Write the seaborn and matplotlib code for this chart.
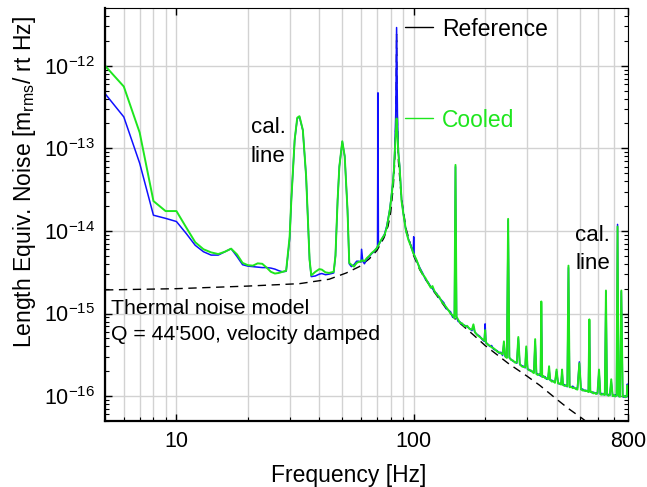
import matplotlib
matplotlib.use("Agg")
import matplotlib.pyplot as plt
import pandas as pd
import seaborn as sns
from matplotlib.ticker import NullFormatter

# Spectra (length equivalent noise, m_rms / rt Hz)
# 5 - 29 Hz
FREQ_LOW = [5, 6, 7, 8, 9, 10, 11, 12, 13, 14, 15, 16, 17, 18, 19, 20, 21, 22, 23, 24,
            25, 26, 27, 28, 29]
REF_LOW = [4.6e-13, 2.4e-13, 6.6e-14, 1.55e-14, 1.42e-14, 1.3e-14, 9.3e-15, 6.7e-15, 5.6e-15, 5.1e-15,
           5.1e-15, 5.6e-15, 6.1e-15, 4.9e-15, 3.9e-15, 3.75e-15, 3.7e-15, 3.65e-15, 3.6e-15, 3.6e-15,
           3.55e-15, 3.45e-15, 3.3e-15, 3.2e-15, 3.25e-15]
COOL_LOW = [1.0e-12, 5.6e-13, 1.55e-13, 2.3e-14, 1.74e-14, 1.74e-14, 1.1e-14, 7.3e-15, 6.0e-15, 5.5e-15,
            5.25e-15, 5.6e-15, 6.1e-15, 5.2e-15, 4.1e-15, 3.85e-15, 3.8e-15, 4.05e-15, 4.0e-15, 3.6e-15,
            3.2e-15, 3.05e-15, 3.1e-15, 3.2e-15, 3.3e-15]

# 30 - 58 Hz, the two calibration lines
FREQ_CAL = [30, 30.5, 31.5, 32.3, 33, 34.1, 35.2, 36.4, 37, 38.5,
            40, 41, 42.5, 44, 46, 46.8, 47.8, 48.6, 50, 51.2,
            52.6, 53.5, 54.6, 56, 57.5]
REF_CAL = [8e-15, 2.4e-14, 1.25e-13, 2.3e-13, 2.4e-13, 1.65e-13, 4.6e-14, 4.5e-15, 2.8e-15, 2.85e-15,
           3.0e-15, 3.05e-15, 2.95e-15, 3.0e-15, 3.1e-15, 5e-15, 2.4e-14, 6e-14, 1.2e-13, 8e-14,
           1.8e-14, 4.0e-15, 3.7e-15, 3.9e-15, 4.3e-15]
COOL_CAL = [8.5e-15, 2.4e-14, 1.27e-13, 2.35e-13, 2.45e-13, 1.67e-13, 4.6e-14, 4.5e-15, 2.9e-15, 3.2e-15,
            3.45e-15, 3.4e-15, 3.15e-15, 3.1e-15, 3.2e-15, 5e-15, 2.4e-14, 6e-14, 1.22e-13, 8e-14,
            1.8e-14, 4.1e-15, 3.9e-15, 3.7e-15, 4.1e-15]

# 58 - 100 Hz, mechanical resonance
FREQ_PEAK = [58.5, 60, 60.3, 61, 62, 63.5, 65, 66.5, 68, 69.6,
             70.4, 70.7, 71.0, 72, 73.5, 75.4, 77, 78, 79.2, 80.2,
             81.5, 82.5, 83.1, 84.0, 84.7, 85.4, 86.2, 87.2, 88.9, 90.5,
             92.8, 95, 97.8, 99.5, 100, 100.5]
REF_PEAK = [4.3e-15, 4.2e-15, 6e-15, 4.3e-15, 4.0e-15, 4.6e-15, 4.9e-15, 5.3e-15, 5.6e-15, 6.1e-15,
            6.5e-15, 4.7e-13, 6.7e-15, 7.2e-15, 8.0e-15, 9.2e-15, 1.15e-14, 1.4e-14, 1.8e-14, 2.4e-14,
            3.6e-14, 5.5e-14, 8.5e-14, 2.6e-13, 2.9e-12, 2.6e-13, 9e-14, 6.2e-14, 2.4e-14, 1.6e-14,
            1.0e-14, 8.0e-15, 6.4e-15, 5.4e-15, 8.5e-15, 5.1e-15]
COOL_PEAK = [4.2e-15, 4.3e-15, 4.4e-15, 4.4e-15, 4.3e-15, 4.7e-15, 5.0e-15, 5.4e-15, 5.7e-15, 6.1e-15,
             6.4e-15, 6.6e-15, 6.7e-15, 7.3e-15, 8.1e-15, 9.0e-15, 1.1e-14, 1.35e-14, 1.75e-14, 2.3e-14,
             3.5e-14, 5.3e-14, 8.3e-14, 1.5e-13, 2.3e-13, 1.5e-13, 8.5e-14, 6.0e-14, 2.3e-14, 1.6e-14,
             1.0e-14, 7.8e-15, 6.3e-15, 5.4e-15, 5.3e-15, 5.1e-15]

# 103 - 800 Hz
FREQ_HIGH = [103, 106, 109, 112, 115, 118, 120, 122, 125, 128,
             131, 134, 137, 140, 143, 146, 148.5, 150, 151.5, 154,
             157, 160, 164, 168, 172, 176, 178.5, 181, 185, 190,
             195, 198.5, 200, 201.5, 205, 209, 213, 217, 221, 225,
             229, 233, 237, 240, 243, 247, 250, 253, 257, 262,
             267, 272, 276, 280, 285, 290, 295, 298, 302, 307,
             312, 317, 321, 325, 329, 334, 339, 342.5, 345, 348,
             353, 358, 363, 368, 372, 376, 382, 388, 394, 400,
             406, 412, 418, 422, 426, 432, 438, 444, 449, 454,
             461, 468, 475, 482, 490, 499, 507, 515, 523, 531,
             539, 545, 550, 555, 563, 571, 579, 587, 595, 604,
             612, 621, 630, 639, 646, 653, 662, 671, 680, 689,
             698, 707, 716, 723, 730, 740, 750, 760, 770, 780,
             790, 795, 800]
REF_HIGH = [4.3e-15, 3.6e-15, 3.1e-15, 2.6e-15, 2.4e-15, 2.1e-15, 2.0e-15, 1.85e-15, 1.75e-15, 1.55e-15,
            1.45e-15, 1.35e-15, 1.15e-15, 1.1e-15, 1.05e-15, 9.0e-16, 9.0e-16, 6.0e-14, 9.0e-16, 8.0e-16,
            7.9e-16, 7.4e-16, 7.2e-16, 6.9e-16, 6.6e-16, 6.2e-16, 7.0e-16, 5.9e-16, 5.6e-16, 5.3e-16,
            4.8e-16, 4.6e-16, 7.5e-16, 4.4e-16, 4.3e-16, 4.0e-16, 4.1e-16, 3.7e-16, 3.6e-16, 3.55e-16,
            3.3e-16, 3.4e-16, 3.1e-16, 4.4e-16, 3.0e-16, 3.0e-16, 1.35e-14, 2.9e-16, 2.8e-16, 2.65e-16,
            2.6e-16, 2.5e-16, 5.0e-16, 2.4e-16, 2.35e-16, 2.3e-16, 2.2e-16, 3.8e-16, 2.1e-16, 2.1e-16,
            2.0e-16, 2.0e-16, 1.95e-16, 4.6e-16, 1.9e-16, 1.85e-16, 1.8e-16, 1.75e-16, 1.35e-15, 1.75e-16,
            1.7e-16, 1.72e-16, 1.6e-16, 1.62e-16, 2.1e-16, 1.55e-16, 1.56e-16, 1.5e-16, 1.47e-16, 2.0e-16,
            1.44e-16, 1.4e-16, 1.42e-16, 2.0e-16, 1.36e-16, 1.38e-16, 1.33e-16, 1.3e-16, 3.6e-15, 1.3e-16,
            1.28e-16, 1.32e-16, 1.25e-16, 1.24e-16, 1.26e-16, 2.6e-16, 1.2e-16, 1.22e-16, 1.16e-16, 1.18e-16,
            1.15e-16, 1.13e-16, 8.2e-16, 1.14e-16, 1.1e-16, 1.12e-16, 1.08e-16, 1.1e-16, 1.07e-16, 2.0e-16,
            1.06e-16, 1.08e-16, 1.04e-16, 1.06e-16, 1.85e-15, 1.03e-16, 1.05e-16, 1.02e-16, 1.5e-16, 1.03e-16,
            1.0e-16, 1.04e-16, 1.01e-16, 1.2e-14, 9.9e-17, 1.02e-16, 1.85e-15, 1.0e-16, 9.7e-17, 1.01e-16,
            9.8e-17, 1.4e-16, 1.05e-16]
COOL_HIGH = [4.4e-15, 3.5e-15, 3.0e-15, 2.7e-15, 2.35e-15, 2.05e-15, 2.15e-15, 1.9e-15, 1.7e-15, 1.6e-15,
             1.4e-15, 1.3e-15, 1.2e-15, 1.1e-15, 1.0e-15, 9.5e-16, 8.8e-16, 6.3e-14, 9.2e-16, 8.4e-16,
             7.7e-16, 7.6e-16, 7.0e-16, 7.1e-16, 6.5e-16, 6.4e-16, 7.4e-16, 6.0e-16, 5.5e-16, 5.2e-16,
             4.9e-16, 4.7e-16, 6.3e-16, 4.5e-16, 4.2e-16, 4.1e-16, 3.9e-16, 3.8e-16, 3.65e-16, 3.45e-16,
             3.4e-16, 3.3e-16, 3.2e-16, 4.6e-16, 3.05e-16, 2.9e-16, 1.4e-14, 2.95e-16, 2.75e-16, 2.7e-16,
             2.55e-16, 2.55e-16, 5.2e-16, 2.45e-16, 2.3e-16, 2.25e-16, 2.25e-16, 4.0e-16, 2.15e-16, 2.05e-16,
             2.05e-16, 1.95e-16, 1.9e-16, 4.9e-16, 1.85e-16, 1.8e-16, 1.85e-16, 1.8e-16, 1.4e-15, 1.7e-16,
             1.75e-16, 1.65e-16, 1.65e-16, 1.6e-16, 2.3e-16, 1.58e-16, 1.5e-16, 1.52e-16, 1.45e-16, 2.1e-16,
             1.42e-16, 1.43e-16, 1.38e-16, 2.1e-16, 1.37e-16, 1.33e-16, 1.35e-16, 1.32e-16, 3.8e-15, 1.28e-16,
             1.3e-16, 1.25e-16, 1.27e-16, 1.22e-16, 1.2e-16, 2.5e-16, 1.22e-16, 1.17e-16, 1.18e-16, 1.15e-16,
             1.16e-16, 1.12e-16, 8.5e-16, 1.12e-16, 1.13e-16, 1.08e-16, 1.1e-16, 1.06e-16, 1.09e-16, 2.1e-16,
             1.05e-16, 1.04e-16, 1.07e-16, 1.03e-16, 1.9e-15, 1.05e-16, 1.01e-16, 1.04e-16, 1.6e-16, 1.0e-16,
             1.03e-16, 9.9e-17, 1.02e-16, 1.13e-14, 1.01e-16, 9.8e-17, 1.9e-15, 9.9e-17, 1.01e-16, 9.7e-17,
             1.0e-16, 1.35e-16, 1.02e-16]

# Thermal noise model (Q = 44'500, velocity damped)
MODEL_FREQ = [5, 10, 20, 33, 44, 52, 59, 65, 70, 75, 78, 80, 82, 83.1, 84, 84.4, 84.7, 85.0,
              85.4, 86.2, 88, 90, 93, 97, 100, 106, 113, 120, 137, 150, 180, 200, 250, 300,
              340, 400, 448, 512, 530]
MODEL_NOISE = [1.93e-15, 2.0e-15, 2.15e-15, 2.3e-15, 2.6e-15, 3.1e-15, 3.7e-15, 4.6e-15, 5.8e-15,
               8.3e-15, 1.15e-14, 1.7e-14, 3.4e-14, 6.5e-14, 1.9e-13, 6e-13, 2.4e-12, 6e-13,
               1.9e-13, 7e-14, 3.3e-14, 1.9e-14, 1.05e-14, 6.8e-15, 5.0e-15, 3.4e-15, 2.5e-15,
               1.95e-15, 1.15e-15, 8.5e-16, 5.4e-16, 4.1e-16, 2.5e-16, 1.75e-16, 1.35e-16,
               9.2e-17, 7.1e-17, 5.4e-17, 5.0e-17]

Y_TICKS = [1e-16, 1e-15, 1e-14, 1e-13, 1e-12]
Y_TICK_LABELS = [r"$\mathregular{10^{-16}}$", r"$\mathregular{10^{-15}}$", r"$\mathregular{10^{-14}}$",
                 r"$\mathregular{10^{-13}}$", r"$\mathregular{10^{-12}}$"]
X_TICKS = [10, 100, 800]
X_TICK_LABELS = ["10", "100", "800"]

BLUE = "#1010ff"
GREEN = "#1ee61e"

freq = FREQ_LOW + FREQ_CAL + FREQ_PEAK + FREQ_HIGH
ref = REF_LOW + REF_CAL + REF_PEAK + REF_HIGH
cool = COOL_LOW + COOL_CAL + COOL_PEAK + COOL_HIGH
assert len(freq) == len(ref) == len(cool)

df_ref = pd.DataFrame({"freq": freq, "noise": ref})
df_cool = pd.DataFrame({"freq": freq, "noise": cool})

sns.set_style("ticks")
plt.rcParams["font.family"] = ["Liberation Sans", "DejaVu Sans"]
plt.rcParams["mathtext.fontset"] = "custom"
plt.rcParams["mathtext.rm"] = "Liberation Sans"
for key in ["text.color", "axes.labelcolor", "xtick.color", "ytick.color", "axes.edgecolor"]:
    plt.rcParams[key] = "black"

fig = plt.figure(figsize=(6.47, 4.87), dpi=100)
ax = fig.add_axes([0.1623, 0.1355, 0.8083, 0.8481])
ax.set_xscale("log")
ax.set_yscale("log")

# model first so the measured traces sit on top of it
sns.lineplot(x=MODEL_FREQ, y=MODEL_NOISE, color="black", lw=1.0, estimator=None, sort=False, ax=ax)
ax.lines[-1].set_dashes([6, 4])
sns.lineplot(data=df_ref, x="freq", y="noise", color=BLUE, lw=1.1, estimator=None, sort=False, ax=ax)
sns.lineplot(data=df_cool, x="freq", y="noise", color=GREEN, lw=1.4, estimator=None, sort=False, ax=ax)

ax.set_xlim(5, 800)
ax.set_ylim(5e-17, 5e-12)
ax.set_xticks(X_TICKS, labels=X_TICK_LABELS)
ax.set_yticks(Y_TICKS, labels=Y_TICK_LABELS)
ax.xaxis.set_minor_formatter(NullFormatter())
ax.yaxis.set_minor_formatter(NullFormatter())

ax.grid(True, which="major", color="#d2d2d2", lw=1.0)
ax.grid(True, which="minor", axis="x", color="#d2d2d2", lw=1.0)
ax.set_axisbelow(True)

ax.tick_params(which="both", direction="in", top=True, right=True, labelsize=15.5, color="black")
ax.tick_params(which="major", length=5, width=1, pad=7)
ax.tick_params(which="minor", length=3, width=0.8, top=False)

for side in ["left", "bottom"]:
    ax.spines[side].set_linewidth(1.6)
for side in ["top", "right"]:
    ax.spines[side].set_linewidth(0.8)

ax.set_xlabel("Frequency [Hz]", fontsize=16.5)
ax.set_ylabel(r"Length Equiv. Noise [m$_\mathregular{rms}$/ rt Hz]", fontsize=16.5)
ax.xaxis.set_label_coords(0.4665, -0.104)
ax.yaxis.set_label_coords(-0.128, 0.579)

# annotations
ax.text(0.279, 0.697, "cal.", transform=ax.transAxes, fontsize=16)
ax.text(0.279, 0.627, "line", transform=ax.transAxes, fontsize=16)
ax.text(0.8987, 0.436, "cal.", transform=ax.transAxes, fontsize=16)
ax.text(0.8987, 0.368, "line", transform=ax.transAxes, fontsize=16)
ax.text(0.0115, 0.259, "Thermal noise model", transform=ax.transAxes, fontsize=15.3)
ax.text(0.0115, 0.196, "Q = 44'500, velocity damped", transform=ax.transAxes, fontsize=15.3)

ax.text(0.6444, 0.932, "Reference", transform=ax.transAxes, fontsize=16.5, color="black")
ax.text(0.6444, 0.712, "Cooled", transform=ax.transAxes, fontsize=16.5, color=GREEN)
# short marker lines in front of the two labels
ax.plot([0.5736, 0.6272], [0.954, 0.954], transform=ax.transAxes, color="black", lw=1.0)
ax.plot([0.5736, 0.6272], [0.7337, 0.7337], transform=ax.transAxes, color=GREEN, lw=1.0)

fig.savefig("out.png", dpi=100)
